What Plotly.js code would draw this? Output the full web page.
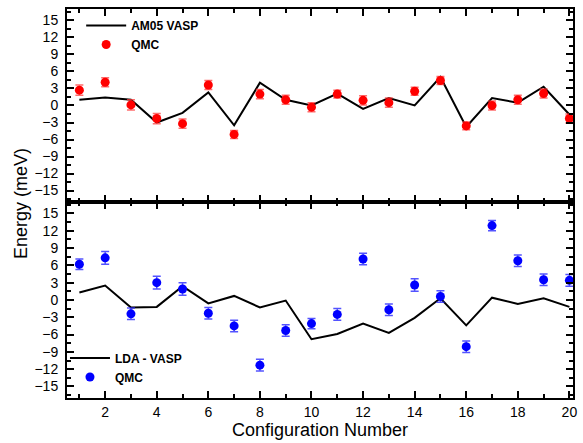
<!DOCTYPE html>
<html>
<head>
<meta charset="utf-8">
<script src="https://cdn.plot.ly/plotly-3.0.1.min.js"></script>
<style>html,body{margin:0;padding:0;background:#fff;}#chart{width:583px;height:443px;}</style>
</head>
<body>
<div id="chart"></div>
<script>
const configs = [1,2,3,4,5,6,7,8,9,10,11,12,13,14,15,16,17,18,19,20];
const am05Vasp = [1.0,1.4,1.0,-3.0,-1.3,2.3,-3.5,4.0,1.0,0.0,2.1,-0.6,1.3,0.0,5.0,-3.8,1.3,0.5,3.3,-1.6];
const qmcTop = [2.7,4.1,0.1,-2.3,-3.2,3.6,-5.1,2.0,1.0,-0.3,2.0,0.9,0.5,2.5,4.4,-3.6,0.0,1.0,2.1,-2.3];
const qmcTopErr = [0.9,0.8,0.9,0.9,0.8,0.8,0.7,0.8,0.8,0.8,0.7,0.8,0.8,0.7,0.7,0.7,0.8,0.8,0.8,0.8];
const ldaVasp = [1.3,2.5,-1.3,-1.2,2.4,-0.6,0.7,-1.3,-0.1,-6.8,-5.9,-4.1,-5.7,-3.1,0.3,-4.4,0.4,-0.7,0.3,-1.2];
const qmcBot = [6.2,7.3,-2.4,3.0,1.9,-2.3,-4.5,-11.3,-5.3,-4.1,-2.5,7.1,-1.7,2.6,0.6,-8.1,12.9,6.8,3.5,3.4];
const qmcBotErr = [0.9,1.1,1.0,1.1,1.1,1.0,1.0,1.0,1.0,0.9,1.0,1.0,1.0,1.1,1.0,1.0,0.9,1.0,1.0,1.0];
const yTickVals = [-15,-12,-9,-6,-3,0,3,6,9,12,15];
const xTickVals = [2,4,6,8,10,12,14,16,18,20];

const font = 'Liberation Sans, Arial, sans-serif';

const traces = [
  {x: configs, y: am05Vasp, xaxis:'x2', yaxis:'y2', mode:'lines', name:'AM05 VASP',
   line:{color:'#000', width:2}, legend:'legend'},
  {x: configs, y: qmcTop, xaxis:'x2', yaxis:'y2', mode:'markers', name:'QMC', cliponaxis:false,
   marker:{color:'#ff0000', size:9},
   error_y:{type:'data', array: qmcTopErr, visible:true, color:'rgba(255,60,60,0.75)', thickness:1.5, width:4},
   legend:'legend'},
  {x: configs, y: ldaVasp, xaxis:'x', yaxis:'y', mode:'lines', name:'LDA - VASP',
   line:{color:'#000', width:2}, legend:'legend2'},
  {x: configs, y: qmcBot, xaxis:'x', yaxis:'y', mode:'markers', name:'QMC', cliponaxis:false,
   marker:{color:'#0000ff', size:9},
   error_y:{type:'data', array: qmcBotErr, visible:true, color:'rgba(40,40,255,0.8)', thickness:1.5, width:4},
   legend:'legend2'}
];

function xax(anchor, showLabels){
  return {
    anchor: anchor, range:[0.52,20.14], tickvals: xTickVals, showticklabels: showLabels,
    ticks:'inside', ticklen:7, tickwidth:2, tickcolor:'#000',
    showline:true, linewidth:2, linecolor:'#000', mirror:'ticks',
    showgrid:false, zeroline:false,
    minor:{tickvals: configs, ticks:'inside', ticklen:4, tickwidth:2, tickcolor:'#000', showgrid:false},
    tickfont:{family:font, size:14, color:'#000'}
  };
}
function yax(domain, anchor){
  return {
    domain: domain, anchor: anchor, range:[-17,17], tickvals: yTickVals,
    ticks:'inside', ticklen:7, tickwidth:2, tickcolor:'#000',
    showline:true, linewidth:2, linecolor:'#000', mirror:'ticks',
    showgrid:false, zeroline:false, ticklabelstandoff:4,
    minor:{dtick:1.5, tick0:0, ticks:'inside', ticklen:4, tickwidth:2, tickcolor:'#000', showgrid:false},
    tickfont:{family:font, size:14, color:'#000'}
  };
}

const layout = {
  width:583, height:443,
  margin:{l:67, r:10, t:9, b:45},
  paper_bgcolor:'#fff', plot_bgcolor:'#fff',
  font:{family:font, color:'#000'},
  xaxis: xax('y', true),
  yaxis: yax([0,0.504],'x'),
  xaxis2: xax('y2', false),
  yaxis2: yax([0.504,1],'x2'),
  legend:{x:0.028, y:0.995, xanchor:'left', yanchor:'top', bgcolor:'rgba(0,0,0,0)',
    font:{family:font, size:12, weight:'bold', color:'#000'}, tracegroupgap:0, itemwidth:40},
  legend2:{x:-0.004, y:0.14, xanchor:'left', yanchor:'top', bgcolor:'rgba(0,0,0,0)',
    font:{family:font, size:12, weight:'bold', color:'#000'}, tracegroupgap:0, itemwidth:40},
  annotations:[
    {text:'Energy (meV)', xref:'paper', yref:'paper', x:-0.092, y:0.5, textangle:-90,
     showarrow:false, font:{family:font, size:18, color:'#000'}, xanchor:'center', yanchor:'middle'},
    {text:'Configuration Number', xref:'paper', yref:'paper', x:0.5, y:-0.052, yanchor:'top',
     showarrow:false, font:{family:font, size:18, color:'#000'}}
  ]
};

Plotly.newPlot('chart', traces, layout, {displayModeBar:false, staticPlot:true});
</script>
</body>
</html>
